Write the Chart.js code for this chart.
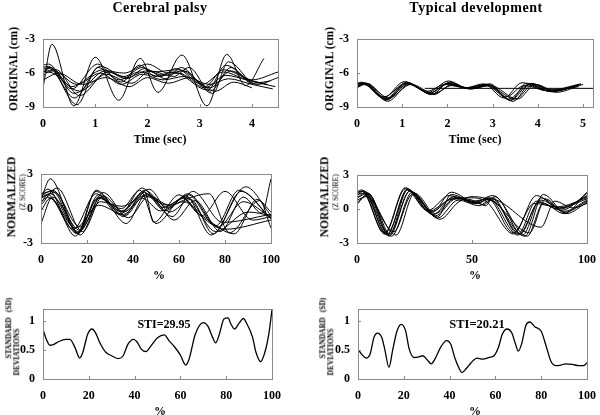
<!DOCTYPE html>
<html>
<head>
<meta charset="utf-8">
<script src="https://cdn.jsdelivr.net/npm/chart.js@4.4.1/dist/chart.umd.min.js"></script>
<style>
body { margin:0; background:#fff; width:600px; height:415px; position:relative; overflow:hidden; font-family:"Liberation Serif","Times New Roman",serif; color:#000; }
canvas { position:absolute; }
.t { position:absolute; font-weight:bold; white-space:nowrap; transform:translate(-50%,-50%); line-height:1; color:#000; will-change:transform; }
.r { transform:translate(-50%,-50%) rotate(-90deg); }
</style>
</head>
<body>
<div class="t" style="left:160px;top:8px;font-size:14px;letter-spacing:0.5px">Cerebral palsy</div>
<div class="t" style="left:476px;top:8px;font-size:14px;letter-spacing:0.5px">Typical development</div>

<div class="t r" style="left:14px;top:69px;font-size:11.5px">ORIGINAL (cm)</div>
<div class="t r" style="left:330px;top:69px;font-size:11.5px">ORIGINAL (cm)</div>
<div class="t" style="left:160px;top:139px;font-size:12px">Time (sec)</div>
<div class="t" style="left:475px;top:139px;font-size:12px">Time (sec)</div>

<div class="t r" style="left:12px;top:197px;font-size:11.5px">NORMALIZED</div>
<div class="t r" style="left:23px;top:192px;font-size:7.5px;font-weight:normal">(Z SCORE)</div>
<div class="t r" style="left:325px;top:197px;font-size:11.5px">NORMALIZED</div>
<div class="t r" style="left:336px;top:192px;font-size:7.5px;font-weight:normal">(Z SCORE)</div>
<div class="t" style="left:159px;top:275px;font-size:12px">%</div>
<div class="t" style="left:475px;top:275px;font-size:12px">%</div>

<div class="t r" style="left:9px;top:338px;font-size:7.5px">STANDARD</div>
<div class="t r" style="left:9px;top:305px;font-size:7.5px">(SD)</div>
<div class="t r" style="left:17px;top:352px;font-size:7.5px">DEVIATIONS</div>
<div class="t r" style="left:323px;top:338px;font-size:7.5px">STANDARD</div>
<div class="t r" style="left:323px;top:305px;font-size:7.5px">(SD)</div>
<div class="t r" style="left:331px;top:352px;font-size:7.5px">DEVIATIONS</div>
<div class="t" style="left:164px;top:324px;font-size:12px">STI=29.95</div>
<div class="t" style="left:477px;top:324px;font-size:12.5px">STI=20.21</div>
<div class="t" style="left:160px;top:411px;font-size:12px">%</div>
<div class="t" style="left:475px;top:411px;font-size:12px">%</div>

<canvas id="p1"></canvas>
<canvas id="p2"></canvas>
<canvas id="p3"></canvas>
<canvas id="p4"></canvas>
<canvas id="p5"></canvas>
<canvas id="p6"></canvas>

<script>
// tick labels
const origYTicks = [-9, -6, -3];
const cpTimeTicks = [0, 1, 2, 3, 4];
const tdTimeTicks = [0, 1, 2, 3, 4, 5];
const zTicks = [-3, 0, 3];
const pctTicks = [0, 20, 40, 60, 80, 100];
const pctTicksTD = [0, 50, 100];
const sdTicks = [0, 0.5, 1];

// cerebral palsy, original (time sec / cm), one row per trial
const cpOrigT = [
  [0, 0.17, 0.59, 1.0, 1.45, 1.86, 2.2, 2.66, 3.14, 3.52, 3.88, 4.23],
  [0, 0.1, 0.6, 1.1, 1.55, 1.9, 2.15, 2.5, 3.15, 3.5, 4.0, 4.5],
  [0, 0.12, 0.65, 1.05, 1.5, 1.85, 2.1, 2.6, 3.2, 3.6, 4.1, 4.5],
  [0, 0.15, 0.55, 1.15, 1.6, 1.95, 2.35, 2.65, 3.1, 3.45, 4.0, 4.45],
  [0, 0.1, 0.6, 1.2, 1.55, 2.0, 2.4, 2.7, 3.25, 3.55, 4.0],
  [0, 0.1, 0.7, 1.25, 1.6, 2.0, 2.3, 2.6, 3.1, 3.5, 3.9, 4.3],
  [0, 0.2, 0.65, 1.1, 1.5, 1.9, 2.3, 2.7, 3.2, 3.55, 4.0, 4.4],
  [0, 0.3, 0.75, 1.2, 1.65, 2.0, 2.4, 2.8, 3.3, 3.65, 4.0],
  [0, 0.12, 0.55, 1.05, 1.45, 1.85, 2.25, 2.55, 3.05, 3.45, 3.85, 4.2],
  [0, 0.25, 0.7, 1.2, 1.7, 2.05, 2.5, 2.8, 3.2, 3.6, 4.0, 4.35]
];
const cpOrigV = [
  [-7.3, -3.45, -8.9, -4.6, -8.4, -4.7, -7.7, -4.4, -8.9, -4.35, -7.1, -4.7],
  [-5.5, -5.4, -8.2, -5.4, -6.3, -5.5, -6.3, -5.9, -7.5, -5.3, -6.6, -5.9],
  [-6.0, -5.6, -8.8, -5.5, -6.8, -5.3, -5.9, -5.7, -7.3, -5.8, -7.0, -6.4],
  [-5.8, -5.5, -7.2, -5.7, -6.5, -5.6, -6.5, -5.5, -7.2, -5.7, -6.7, -7.2],
  [-5.3, -5.2, -7.8, -5.8, -6.0, -5.2, -6.0, -5.8, -7.8, -5.0, -7.0],
  [-6.3, -5.9, -7.6, -5.9, -6.4, -5.8, -6.2, -6.0, -7.3, -6.2, -6.6, -7.0],
  [-6.1, -5.8, -7.0, -6.0, -7.0, -6.1, -6.6, -6.3, -7.0, -6.5, -7.0, -7.4],
  [-6.6, -6.0, -7.0, -6.4, -7.2, -6.4, -6.9, -6.4, -7.6, -6.8, -7.3],
  [-5.6, -5.5, -7.4, -5.2, -6.6, -5.9, -6.3, -5.6, -7.0, -5.9, -6.5, -6.9],
  [-5.9, -5.7, -8.0, -6.1, -6.9, -5.8, -6.3, -5.5, -7.6, -5.5, -6.9, -6.7]
];

// typical development, original
const tdOrigT = [
  [0, 0.15, 0.62, 1.1, 1.6, 2.0, 2.45, 2.9, 3.35, 3.8, 4.3, 4.95],
  [0, 0.2, 0.65, 1.12, 1.65, 2.05, 2.5, 2.85, 3.4, 3.75, 4.35, 4.9],
  [0, 0.1, 0.58, 1.05, 1.55, 1.95, 2.4, 2.95, 3.3, 3.7, 4.25, 4.85],
  [0, 0.18, 0.68, 1.15, 1.7, 2.1, 2.55, 2.9, 3.45, 3.85, 4.4, 5.0],
  [0, 0.12, 0.6, 1.08, 1.58, 2.02, 2.45, 2.85, 3.5, 3.9, 4.3, 4.9],
  [0, 0.2, 0.7, 1.2, 1.7, 2.1, 2.5, 2.95, 3.55, 3.95, 4.4, 4.8],
  [0, 0.15, 0.64, 1.1, 1.62, 2.05, 2.4, 2.8, 3.25, 3.65, 4.2, 4.95],
  [0, 0.22, 0.66, 1.14, 1.66, 2.0, 2.45, 2.9, 3.4, 3.8, 4.3, 4.75],
  [1.5, 5.22]
];
const tdOrigV = [
  [-7.0, -6.85, -8.3, -6.8, -7.8, -6.9, -7.3, -7.0, -8.3, -7.0, -7.6, -7.0],
  [-7.2, -6.9, -8.4, -6.9, -7.9, -6.8, -7.4, -7.1, -8.4, -6.9, -7.5, -7.1],
  [-6.9, -6.8, -8.2, -6.75, -7.6, -7.0, -7.3, -6.95, -8.1, -7.1, -7.6, -7.1],
  [-7.3, -7.0, -8.5, -7.0, -7.9, -7.0, -7.4, -7.1, -8.5, -6.9, -7.7, -7.0],
  [-7.1, -6.95, -8.1, -6.9, -7.7, -6.7, -7.35, -7.0, -8.3, -7.0, -7.5, -7.2],
  [-6.95, -6.9, -8.2, -7.0, -7.8, -7.1, -7.4, -7.1, -8.3, -7.0, -7.6, -7.2],
  [-7.2, -7.0, -8.35, -6.85, -7.75, -6.85, -7.3, -6.95, -8.2, -6.85, -7.55, -6.95],
  [-7.0, -6.9, -8.3, -6.95, -7.9, -6.95, -7.35, -7.05, -8.4, -7.05, -7.65, -7.25],
  [-7.35, -7.35]
];

// cerebral palsy, normalized (% of trial / z score)
const cpNormX = [
  [0, 4, 16, 25, 36, 45, 55, 64, 77, 88, 100],
  [0, 3, 15, 24, 35, 44, 53, 63, 76, 90, 100],
  [0, 5, 17, 26, 37, 46, 57, 66, 79, 100],
  [0, 7, 18, 27, 36, 47, 56, 65, 75, 87, 100],
  [0, 4, 16, 25, 35, 43, 50, 62, 70, 80, 92, 100],
  [0, 3, 14, 24, 34, 45, 54, 63, 74, 89, 100],
  [0, 5, 16, 26, 35, 46, 56, 64, 73, 82, 95, 100],
  [0, 6, 17, 27, 38, 47, 58, 67, 78, 88, 96, 100],
  [0, 4, 15, 25, 36, 44, 52, 62, 72, 84, 94, 100],
  [0, 5, 17, 25, 35, 45, 49, 60, 68, 80, 100],
  [0, 3, 16, 24, 36, 45, 55, 64, 76, 86, 100]
];
const cpNormY = [
  [0.8, 2.6, -2.2, 1.2, -0.6, 1.6, 0.1, 1.3, -1.6, 0.6, -0.8],
  [1.2, 1.7, -2.4, 1.5, -0.3, 1.8, 0.1, 1.0, -2.0, -0.3, -0.6],
  [-1.3, 1.0, -1.9, 1.0, -1.3, 1.3, -0.7, 1.5, -1.2, -0.5],
  [0.3, 1.8, -2.0, 1.1, -0.3, 1.7, -0.3, 0.8, -2.2, 1.5, -0.9],
  [1.0, 1.3, -2.0, 0.9, 0.0, 1.6, -1.3, 0.9, -0.6, 1.5, -1.0, -0.7],
  [0.5, 1.2, -1.8, 1.3, -0.5, 1.4, -0.2, 1.1, -2.3, 1.9, -0.6],
  [1.3, 1.5, -2.1, 0.6, 0.2, 1.2, 0.3, 0.9, 1.3, -2.1, 0.7, -1.7],
  [0.9, 1.4, -2.3, 1.4, -0.8, 1.1, -1.0, 0.7, -2.0, 1.0, -0.4, 2.6],
  [-0.2, 0.9, -1.7, 0.3, -0.5, 0.9, -0.2, 0.6, -0.9, -2.2, 0.8, -0.3],
  [1.1, 1.6, -1.6, 1.0, -0.2, 1.5, -1.2, 1.2, -0.4, -1.8, -1.0],
  [0.6, 1.0, -2.2, 1.6, -0.7, 1.1, 0.3, 1.2, -1.5, 1.6, -0.9]
];

// typical development, normalized
const tdNormX = [
  [0, 3, 13, 22, 32, 42, 50, 56, 59, 70, 78, 88, 100],
  [0, 4, 14, 23, 34, 43, 52, 55, 60, 72, 80, 90, 100],
  [0, 2, 12, 21, 31, 40, 50, 57, 68, 77, 87, 100],
  [0, 5, 15, 24, 35, 44, 53, 58, 73, 81, 91, 100],
  [0, 3, 13, 22, 33, 41, 52, 58, 71, 79, 89, 100],
  [0, 4, 17, 25, 36, 44, 50, 59, 75, 82, 90, 100],
  [0, 3, 14, 22, 33, 42, 51, 57, 70, 80, 88, 100],
  [0, 2, 12, 21, 31, 40, 49, 56, 68, 78, 88, 100],
  [0, 4, 16, 24, 34, 43, 52, 58, 80, 86, 94, 100],
  [0, 5, 14, 23, 35, 41, 51, 59, 74, 81, 90, 100]
];
const tdNormY = [
  [1.4, 1.6, -2.3, 1.8, -0.3, 1.0, 0.8, 0.3, 1.0, -2.2, 0.7, 0.0, 1.2],
  [1.0, 1.5, -2.2, 1.6, -0.6, 0.9, 0.6, 0.4, 1.1, -2.3, 1.0, -0.2, 0.8],
  [1.5, 1.7, -2.1, 1.9, -0.1, 1.2, 0.7, 0.9, -2.1, 0.5, 0.2, 1.0],
  [0.6, 1.3, -2.4, 1.5, -0.8, 0.8, 0.3, 0.8, -2.4, 1.3, -0.4, 0.6],
  [1.3, 1.4, -2.2, 1.7, -0.2, 1.5, 0.5, 1.0, -2.2, 0.6, -0.1, 1.4],
  [0.4, 1.2, -2.3, 1.4, -0.9, 0.6, 1.1, 0.7, -2.1, 0.9, -0.3, 0.7],
  [1.2, 1.6, -2.3, 1.7, -0.5, 1.1, 0.5, 1.0, -2.3, 0.8, 0.1, 1.1],
  [1.5, 1.6, -2.2, 1.8, -0.2, 0.8, 1.0, 0.7, -2.2, 1.2, 0.1, 0.9],
  [0.8, 1.1, -2.0, 1.3, -0.4, 1.0, 0.5, 0.9, -1.6, 0.7, 0.1, 0.5],
  [1.0, 1.4, -2.4, 1.6, -0.7, 1.3, 0.6, 1.2, -2.4, 0.5, -0.4, 1.5]
];

// standard deviation across trials
const sdPctCP = [0, 1.7, 3, 4.5, 6.7, 10, 11.7, 14, 16, 17.4, 19.5, 21.4, 23, 25, 27.4, 30, 33, 35, 37, 39.5, 41, 43, 45, 47, 50, 53, 55, 57.5, 60, 62.3, 63.7, 66.5, 70, 72, 74, 75.4, 77, 79, 80.8, 82, 83.6, 85.8, 87.5, 89, 91.5, 93, 95, 96.9, 98.6, 100];
const sdCP = [0.85, 0.66, 0.58, 0.59, 0.64, 0.68, 0.68, 0.54, 0.36, 0.46, 0.77, 0.86, 0.79, 0.61, 0.46, 0.40, 0.35, 0.40, 0.59, 0.68, 0.64, 0.51, 0.47, 0.56, 0.71, 0.76, 0.66, 0.55, 0.41, 0.24, 0.33, 0.77, 0.97, 0.91, 0.72, 0.62, 0.77, 1.03, 1.05, 0.95, 0.86, 0.97, 1.04, 0.95, 0.72, 0.46, 0.30, 0.46, 0.77, 1.19];
const sdPctTD = [0, 1.7, 3.6, 5.3, 7, 8.4, 10.3, 11.7, 13.5, 15.2, 17, 18.8, 20.7, 22.4, 24.5, 26.6, 28.3, 30.2, 32, 33.8, 36.3, 38.7, 40.6, 42.3, 44.2, 45.4, 47.3, 49.4, 52, 54.4, 57.3, 59.4, 61.3, 63, 65.1, 67.2, 68.7, 70, 71.5, 73.3, 75, 77.2, 80, 82.2, 84.3, 86.5, 88.6, 90.7, 93.6, 96.4, 98.6, 100];
const sdTD = [0.51, 0.42, 0.36, 0.43, 0.72, 0.79, 0.72, 0.51, 0.20, 0.51, 0.82, 0.94, 0.84, 0.51, 0.37, 0.38, 0.40, 0.33, 0.26, 0.36, 0.56, 0.66, 0.59, 0.36, 0.18, 0.11, 0.18, 0.28, 0.36, 0.34, 0.37, 0.40, 0.54, 0.77, 0.86, 0.79, 0.61, 0.48, 0.61, 0.92, 0.98, 0.90, 0.82, 0.56, 0.30, 0.23, 0.24, 0.26, 0.25, 0.23, 0.23, 0.28];

const frame = {
  id: 'frame',
  afterDraw(chart) {
    const ctx = chart.ctx, a = chart.chartArea, sx = chart.scales.x, sy = chart.scales.y;
    ctx.save();
    ctx.strokeStyle = '#8a8a8a';
    ctx.lineWidth = 1;
    ctx.strokeRect(Math.round(a.left) + 0.5, Math.round(a.top) + 0.5, Math.round(a.width), Math.round(a.height));
    ctx.beginPath();
    sx.ticks.forEach(t => {
      const px = Math.round(sx.getPixelForValue(t.value)) + 0.5;
      ctx.moveTo(px, a.bottom); ctx.lineTo(px, a.bottom - 3);
    });
    sy.ticks.forEach(t => {
      const py = Math.round(sy.getPixelForValue(t.value)) + 0.5;
      ctx.moveTo(a.left, py); ctx.lineTo(a.left + 3, py);
    });
    ctx.stroke();
    ctx.restore();
  }
};

const tickFont = {family: 'Liberation Serif', weight: 'bold', size: 12};

function lines(xs, ys, width) {
  return xs.map((row, i) => ({
    data: row.map((x, j) => ({x: x, y: ys[i][j]})),
    borderColor: '#000',
    borderWidth: width,
    pointRadius: 0,
    cubicInterpolationMode: 'monotone',
    fill: false
  }));
}

function panel(id, box, xr, xt, yr, yt, datasets) {
  const padL = 45, padT = 8, padR = 14, padB = 24;
  const cv = document.getElementById(id);
  cv.width = box[2] + padL + padR;
  cv.height = box[3] + padT + padB;
  cv.style.left = (box[0] - padL) + 'px';
  cv.style.top = (box[1] - padT) + 'px';
  new Chart(cv, {
    type: 'line',
    data: {datasets: datasets},
    options: {
      responsive: false,
      animation: false,
      devicePixelRatio: 1,
      layout: {padding: {left: 0, top: padT, right: padR, bottom: 0}},
      plugins: {legend: {display: false}, tooltip: {enabled: false}},
      scales: {
        x: {
          type: 'linear', min: xr[0], max: xr[1],
          grid: {display: false, drawTicks: false}, border: {display: false},
          afterBuildTicks: s => { s.ticks = xt.map(v => ({value: v})); },
          afterFit: s => { s.height = padB; },
          ticks: {padding: 10, color: '#000', font: tickFont, maxRotation: 0, autoSkip: false, callback: v => String(v)}
        },
        y: {
          type: 'linear', min: yr[0], max: yr[1],
          grid: {display: false, drawTicks: false}, border: {display: false},
          afterBuildTicks: s => { s.ticks = yt.map(v => ({value: v})); },
          afterFit: s => { s.width = padL; },
          ticks: {padding: 8, color: '#000', font: tickFont, autoSkip: false, callback: v => String(v)}
        }
      }
    },
    plugins: [frame]
  });
}

panel('p1', [43, 32, 235, 75], [0, 4.5], cpTimeTicks, [-9, -3], origYTicks, lines(cpOrigT, cpOrigV, 1));
panel('p2', [357, 32, 236, 75], [0, 5.22], tdTimeTicks, [-9, -3], origYTicks, lines(tdOrigT, tdOrigV, 1));
panel('p3', [41, 167, 235, 76], [0, 100], pctTicks, [-3, 3], zTicks, lines(cpNormX, cpNormY, 1));
panel('p4', [357, 168, 235, 75], [0, 100], pctTicksTD, [-3, 3], zTicks, lines(tdNormX, tdNormY, 1));
panel('p5', [43, 302, 234, 77], [0, 100], pctTicks, [0, 1.2], sdTicks, lines([sdPctCP], [sdCP], 1.3));
panel('p6', [358, 302, 234, 77], [0, 100], pctTicks, [0, 1.2], sdTicks, lines([sdPctTD], [sdTD], 1.3));
</script>
</body>
</html>
